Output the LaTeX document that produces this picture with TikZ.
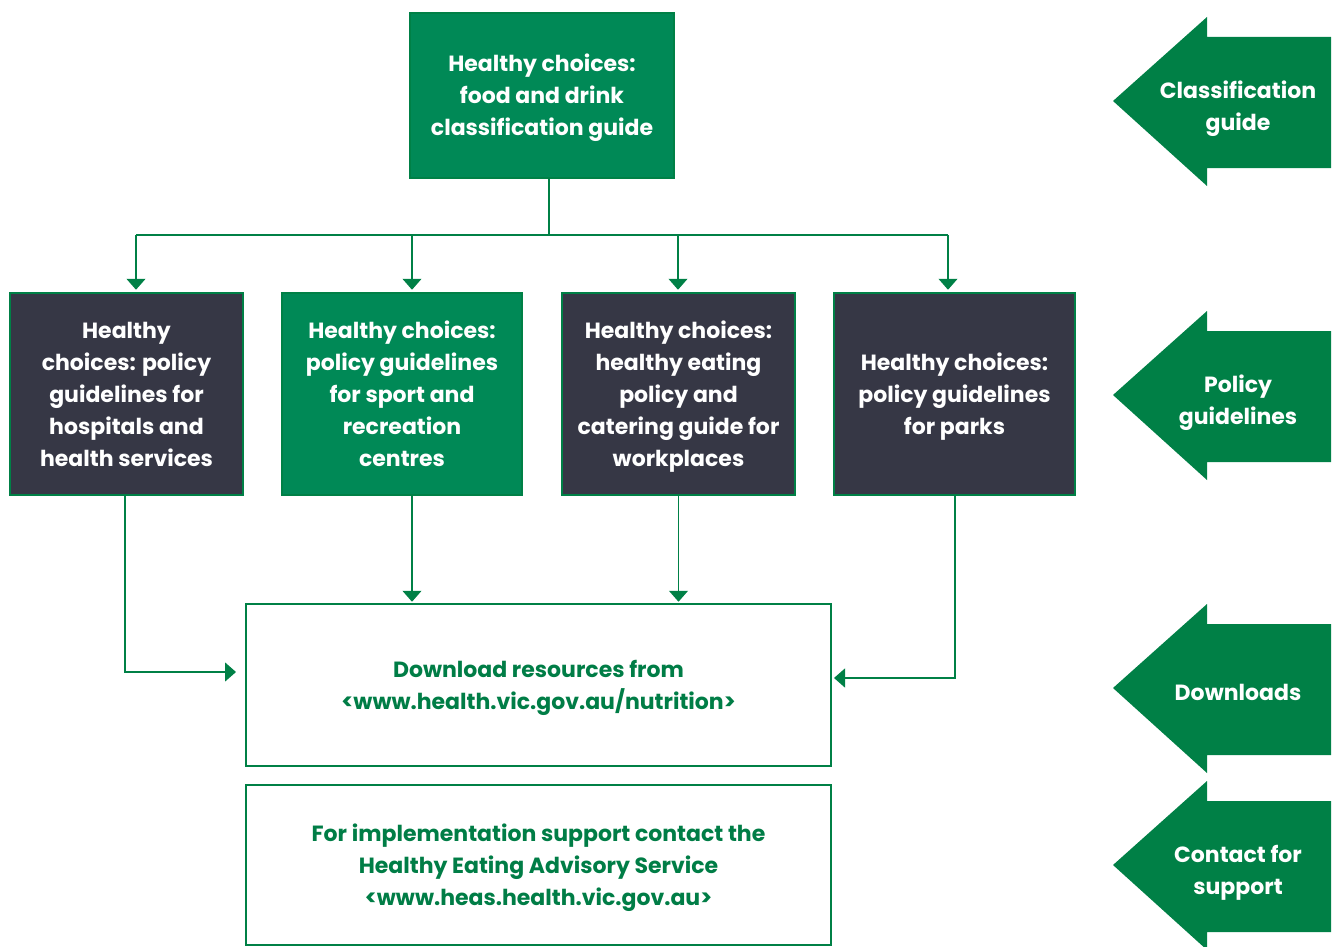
\documentclass[tikz,border=0pt]{standalone}
\usepackage{fontspec}
\setmainfont{Poppins}
\usetikzlibrary{arrows.meta,calc}
\definecolor{vgreen}{RGB}{0,137,86}
\definecolor{vborder}{RGB}{0,128,70}
\definecolor{vdark}{RGB}{54,55,69}
\definecolor{varrow}{RGB}{0,128,70}
\definecolor{vtext}{RGB}{0,125,70}
\newcommand\ts{\rule{0pt}{22.3pt}}
\newcommand\mybotstrut{\rule[-6pt]{0pt}{6pt}}
\begin{document}
\begin{tikzpicture}[x=1pt,y=-1pt,
  box/.style={rectangle, draw=vborder, line width=2.5pt, align=center, text=white,
    font=\fontsize{22}{32}\selectfont\bfseries, inner sep=0pt,
    execute at end node=\mybotstrut},
  greenbox/.style={box, fill=vgreen},
  darkbox/.style={box, fill=vdark},
  whitebox/.style={box, fill=white, text=vtext},
  conn/.style={draw=vborder, line width=1.2pt},
  arr/.style={conn, -{Triangle[width=19pt,length=11pt]}},
  bigarrow/.style={fill=varrow, draw=none},
  arrowtext/.style={text=white, align=center, font=\fontsize{22}{32}\selectfont\bfseries}
]
\useasboundingbox (0,0) rectangle (1338,947);

% boxes
\node[greenbox, minimum width=264pt, minimum height=165pt] (top) at (542,95.5)
  {\ts Healthy choices:\\food and drink\\classification guide};
\node[darkbox, minimum width=233pt, minimum height=202pt] (b1) at (126.5,394)
  {\ts Healthy\\choices: policy\\guidelines for\\hospitals and\\health services};
\node[greenbox, minimum width=240pt, minimum height=202pt] (b2) at (402,394)
  {\ts Healthy choices:\\policy guidelines\\for sport and\\recreation\\centres};
\node[darkbox, minimum width=233pt, minimum height=202pt] (b3) at (678.5,394)
  {\ts Healthy choices:\\healthy eating\\policy and\\catering guide for\\workplaces};
\node[darkbox, minimum width=241pt, minimum height=202pt] (b4) at (954.5,394)
  {\ts Healthy choices:\\policy guidelines\\for parks};
\node[whitebox, minimum width=585pt, minimum height=162pt] (dl) at (538.5,685)
  {\ts Download resources from\\<www.health.vic.gov.au/nutrition>};
\node[whitebox, minimum width=585pt, minimum height=160pt] (ct) at (538.5,865)
  {\ts For implementation support contact the\\Healthy Eating Advisory Service\\<www.heas.health.vic.gov.au>};

% connectors
\coordinate (j) at (549,235);
\coordinate (bus1) at (136,235);
\coordinate (bus2) at (412,235);
\coordinate (bus3) at (678,235);
\coordinate (bus4) at (948,235);
\draw[conn] ($(top.south)+(7,0)$) -- (j);
\draw[conn] (bus1) -- (bus4);
\draw[arr, shorten >=2pt] (bus1) -- (bus1 |- b1.north);
\draw[arr, shorten >=2pt] (bus2) -- (bus2 |- b2.north);
\draw[arr, shorten >=2pt] (bus3) -- (bus3 |- b3.north);
\draw[arr, shorten >=2pt] (bus4) -- (bus4 |- b4.north);

\coordinate (c1) at (125,672);
\coordinate (c4) at (955,678);
\draw[arr] (b1.south -| c1) -- (c1) -- (236,672);
\draw[arr] ($(b2.south)+(10,0)$) -- ($(dl.north -| b2.south)+(10,-1)$);
\draw[arr] (b3.south) -- ($(dl.north -| b3.south)+(0,-1)$);
\draw[arr] (b4.south -| c4) -- (c4) -- (834,678);

% side arrows
\foreach \yt/\dy/\nm/\txt in {101/8/a1/{Classification\\guide}, 395/8/a2/{Policy\\guidelines}, 688/4/a3/{Downloads}, 865/8/a4/{Contact for\\support}}{
  \fill[bigarrow] (1113,\yt) -- (1207,\yt-84) -- (1207,\yt-64) -- (1331,\yt-64)
    -- (1331,\yt+67) -- (1207,\yt+67) -- (1207,\yt+85) -- cycle;
  \node[arrowtext] (\nm) at (1238,\yt+\dy) {\txt};
}
\end{tikzpicture}
\end{document}
